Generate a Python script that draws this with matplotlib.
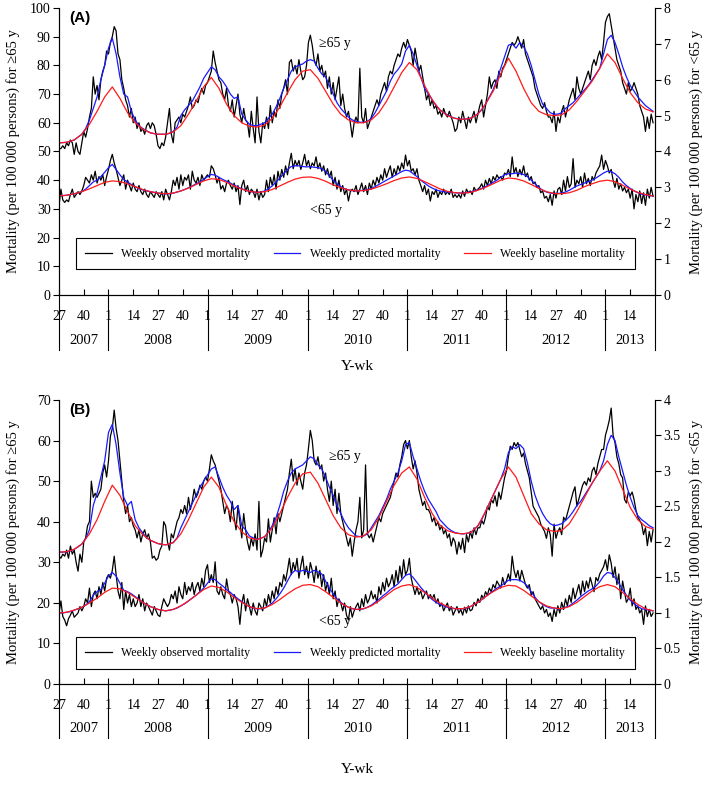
import numpy as np
import matplotlib
matplotlib.use('Agg')
import matplotlib.pyplot as plt
import matplotlib.transforms as mtransforms

plt.rcParams['font.family'] = ['Liberation Serif', 'DejaVu Serif']
plt.rcParams['font.size'] = 10

# week index 0 = 2007 wk27, 312 = 2013 wk26
years = ['2007', '2008', '2009', '2010', '2011', '2012', '2013']
year_start = [0, 26, 78, 131, 183, 235, 287, 313]
first_week = [27, 1, 1, 1, 1, 1, 1]
tick_weeks = [1, 14, 27, 40]

# ---- panel A, >=65 y (left axis) ----
a_old_obs = [
    51, 51, 52, 51, 53, 52, 54, 53, 49, 53, 50, 49, 53,
    57, 55, 58, 62, 65, 76, 70, 73, 68, 75, 78, 80, 85,
    84, 88, 90, 93.5, 92, 84, 82, 75, 72, 68, 66, 62, 65,
    60, 62, 58, 60, 57, 58, 56, 59, 60, 58, 60, 59, 56,
    52, 51, 53, 52, 55, 60, 65, 56, 53, 60, 61, 62, 60,
    63, 62, 64, 66, 69, 65, 66, 68, 67, 70, 72, 70, 73,
    74, 76, 78, 85, 81, 78, 75, 74, 70, 68, 72, 66, 64,
    68, 62, 66, 70, 63, 60, 65, 61, 60, 55, 64, 58, 53,
    69, 57, 53, 60, 58, 62, 58, 66, 60, 64, 62, 68, 65,
    70, 72, 75, 70, 81, 82, 78, 80, 77, 82, 78, 75, 76,
    80, 88, 90.5, 87, 82, 80, 84, 78, 80, 76, 78, 72, 76,
    70, 74, 68, 72, 76, 66, 70, 65, 62, 64, 60, 55, 60,
    62, 60, 79, 62, 60, 65, 58, 60, 62, 64, 66, 68, 66,
    70, 72, 74, 71, 76, 78, 77, 80, 82, 84, 83, 86, 88,
    86, 89, 87, 85, 80, 86, 82, 78, 80, 76, 72, 68, 70,
    66, 68, 65, 66, 63, 64, 62, 65, 63, 62, 64, 62, 60,
    57, 58, 62, 60, 64, 61, 58, 62, 60, 62, 64, 60, 63,
    66, 68, 62, 66, 70, 76, 72, 74, 75, 72, 78, 76, 79,
    80, 82, 84, 86, 88, 87, 88, 90, 88, 86, 89, 84, 82,
    80, 78, 76, 72, 70, 68, 66, 65, 67, 64, 62, 62, 60,
    64, 57, 62, 60, 64, 66, 62, 65, 68, 70, 72, 68, 76,
    72, 70, 72, 74, 76, 78, 75, 80, 82, 80, 83, 85, 82,
    88, 95, 97, 98, 94, 90, 86, 82, 80, 78, 74, 72, 70,
    74, 71, 72, 74, 72, 70, 66, 64, 62, 57, 62, 58, 63,
    60]
a_old_pred = [
    53.0, 53.1, 53.2, 53.6, 54.0, 55.0, 56.0, 58.0, 61.0, 65.0, 69.0, 75.0, 80.0,
    86.0, 89.5, 84.0, 76.0, 70.0, 69.0, 64.0, 61.0, 59.0, 58.0, 57.2, 56.5, 56.2,
    56.0, 56.0, 56.0, 56.3, 57.0, 58.5, 62.5, 64.5, 66.0, 67.5, 70.0, 72.5, 75.5,
    77.5, 79.5, 78.5, 76.0, 74.5, 72.5, 70.0, 68.5, 69.0, 63.0, 61.0, 59.5, 59.0,
    59.0, 59.5, 60.0, 61.5, 63.0, 65.5, 68.5, 72.0, 75.0, 78.0, 79.5, 80.0, 80.5,
    81.5, 82.0, 81.5, 79.0, 77.0, 76.0, 73.0, 70.0, 67.0, 65.0, 63.5, 62.0, 61.0,
    60.5, 60.2, 60.2, 60.5, 61.5, 63.5, 66.0, 68.5, 71.0, 74.5, 77.0, 78.5, 80.5,
    85.0, 87.0, 84.0, 80.0, 76.0, 72.0, 70.0, 68.0, 66.0, 64.5, 63.5, 62.8, 62.0,
    61.6, 61.3, 61.2, 61.3, 61.6, 62.2, 63.2, 64.5, 66.5, 69.0, 71.5, 75.0, 79.0,
    83.0, 87.0, 87.5, 86.0, 88.0, 86.5, 84.0, 80.0, 75.0, 70.0, 66.5, 65.0, 63.5,
    63.0, 63.0, 63.5, 65.0, 66.0, 67.0, 68.5, 70.0, 71.5, 73.0, 75.0, 77.0, 79.0,
    84.0, 89.0, 90.5, 88.0, 84.0, 79.5, 76.0, 73.0, 71.0, 69.0, 67.5, 66.0, 65.0,
    64.0]
a_old_base = [
    53.0, 53.2, 54.0, 56.0, 59.5, 64.0, 69.0, 72.5, 68.5, 63.5, 60.0, 57.8, 56.5,
    56.0, 56.0, 56.8, 59.0, 63.0, 67.5, 72.5, 75.8, 72.0, 66.5, 62.5, 60.0, 58.8,
    58.5, 59.2, 61.5, 65.5, 70.5, 75.0, 78.0, 78.5, 75.5, 71.0, 66.5, 63.0, 61.0,
    60.0, 60.0, 61.0, 63.5, 67.5, 72.5, 77.5, 81.0, 78.5, 73.0, 68.0, 64.5, 62.5,
    61.5, 61.2, 61.5, 63.0, 66.5, 71.0, 77.0, 82.5, 78.0, 72.0, 67.0, 64.0, 62.8,
    62.5, 62.8, 64.5, 67.5, 71.0, 74.5, 79.0, 84.0, 81.0, 75.5, 70.5, 67.0, 64.8,
    63.8]

# ---- panel A, <65 y (right axis) ----
a_yng_obs = [
    2.48, 2.95, 2.65, 2.58, 2.65, 2.6, 2.8, 2.95, 2.72, 2.8, 2.88, 2.8, 2.9,
    3.05, 3.28, 3.2, 3.12, 3.35, 3.2, 3.45, 3.12, 3.3, 3.2, 3.35, 3.05, 3.3,
    3.5, 3.75, 3.92, 3.68, 3.5, 3.28, 3.05, 3.2, 3.35, 2.95, 3.2, 3.05, 2.9,
    3.12, 2.95, 2.88, 3.05, 2.88, 2.8, 2.95, 2.8, 2.72, 2.88, 2.8, 2.72, 2.88,
    2.8, 2.72, 2.88, 2.65, 2.95, 2.8, 2.65, 2.88, 3.2, 3.05, 3.28, 2.95, 3.35,
    3.05, 3.28, 3.2, 3.35, 2.95, 3.45, 3.2, 3.12, 3.28, 3.05, 3.35, 3.2, 3.28,
    3.35, 3.28, 3.6, 3.52, 3.35, 3.12, 3.28, 2.95, 3.05, 2.88, 3.12, 3.2, 3.05,
    2.95, 3.12, 2.88, 3.05, 2.52, 3.05, 3.2, 2.88, 3.05, 2.8, 2.95, 2.88, 2.72,
    2.95, 2.65, 2.88, 2.72, 2.8, 3.2, 2.88, 3.28, 3.05, 3.35, 2.95, 3.45, 3.2,
    3.5, 3.28, 3.6, 3.35, 3.68, 3.95, 3.52, 3.75, 3.6, 3.75, 3.5, 3.68, 3.92,
    3.6, 3.75, 3.52, 3.68, 3.6, 3.85, 3.52, 3.68, 3.45, 3.6, 3.35, 3.52, 3.28,
    3.45, 3.05, 3.28, 2.95, 3.2, 2.88, 3.05, 2.8, 2.95, 2.62, 2.88, 2.95, 2.88,
    3.05, 2.8, 2.95, 3.12, 2.88, 3.05, 2.8, 3.12, 2.95, 3.2, 3.05, 3.28, 3.12,
    3.35, 3.2, 3.52, 3.28, 3.45, 3.6, 3.28, 3.52, 3.35, 3.6, 3.45, 3.68, 3.52,
    3.9, 3.6, 3.75, 3.45, 3.52, 3.35, 3.52, 3.2, 3.05, 2.88, 3.05, 2.8, 2.95,
    2.62, 2.88, 2.8, 2.95, 2.72, 2.88, 2.8, 2.95, 2.8, 2.88, 2.8, 2.95, 2.72,
    2.8, 2.72, 2.8, 2.7, 2.9, 2.75, 2.95, 2.85, 2.9, 2.8, 3.0, 2.9, 2.95,
    3.0, 3.1, 2.95, 3.2, 3.05, 3.25, 3.1, 3.3, 3.2, 3.35, 3.25, 3.3, 3.2,
    3.4, 3.35, 3.5, 3.3, 3.85, 3.4, 3.55, 3.3, 3.5, 3.35, 3.6, 3.3, 3.4,
    3.2, 3.3, 3.1, 3.15, 3.0, 3.05, 2.85, 2.9, 2.7, 2.75, 2.6, 2.8, 2.5,
    2.9, 2.7, 2.95, 3.0, 2.8, 3.2, 2.9, 3.3, 3.0, 3.1, 3.8, 3.0, 3.2,
    3.1, 3.3, 3.0, 3.4, 3.1, 3.25, 3.05, 3.3, 3.2, 3.4, 3.5, 3.6, 3.9,
    3.5, 3.75, 3.6, 3.4, 3.5, 3.2, 3.0, 3.25, 2.95, 3.1, 2.9, 3.0, 2.85,
    2.95, 2.7, 2.95, 2.4, 2.8, 2.6, 2.9, 2.55, 2.85, 2.5, 2.95, 2.7, 3.0,
    2.75]
a_yng_pred = [
    2.76, 2.77, 2.78, 2.8, 2.82, 2.85, 2.88, 2.95, 3.05, 3.15, 3.2, 3.3, 3.42,
    3.55, 3.64, 3.5, 3.35, 3.22, 3.15, 3.08, 3.02, 2.97, 2.93, 2.9, 2.88, 2.86,
    2.84, 2.83, 2.82, 2.82, 2.84, 2.87, 2.9, 2.94, 2.99, 3.04, 3.1, 3.15, 3.22,
    3.3, 3.36, 3.34, 3.28, 3.22, 3.17, 3.12, 3.06, 3.01, 2.96, 2.92, 2.89, 2.87,
    2.86, 2.87, 2.9, 2.96, 3.04, 3.15, 3.26, 3.38, 3.5, 3.58, 3.6, 3.6, 3.58,
    3.57, 3.58, 3.56, 3.55, 3.52, 3.45, 3.32, 3.2, 3.1, 3.02, 2.96, 2.93, 2.91,
    2.9, 2.91, 2.92, 2.94, 2.97, 3.02, 3.08, 3.14, 3.2, 3.26, 3.32, 3.38, 3.44,
    3.48, 3.46, 3.38, 3.3, 3.2, 3.12, 3.04, 2.98, 2.93, 2.9, 2.88, 2.87, 2.86,
    2.85, 2.84, 2.84, 2.85, 2.87, 2.9, 2.93, 2.97, 3.02, 3.08, 3.14, 3.2, 3.28,
    3.35, 3.38, 3.38, 3.4, 3.38, 3.36, 3.3, 3.2, 3.1, 3.0, 2.92, 2.87, 2.84,
    2.83, 2.83, 2.84, 2.87, 2.92, 2.98, 3.04, 3.08, 3.12, 3.16, 3.2, 3.26, 3.33,
    3.4, 3.45, 3.44, 3.38, 3.28, 3.15, 3.05, 2.97, 2.9, 2.85, 2.81, 2.79, 2.77,
    2.76]
a_yng_base = [
    2.76, 2.78, 2.82, 2.88, 2.96, 3.05, 3.14, 3.18, 3.16, 3.1, 3.02, 2.94, 2.88,
    2.84, 2.82, 2.84, 2.9, 2.98, 3.08, 3.18, 3.24, 3.22, 3.14, 3.04, 2.95, 2.89,
    2.86, 2.88, 2.94, 3.04, 3.14, 3.23, 3.28, 3.29, 3.25, 3.17, 3.07, 2.99, 2.93,
    2.9, 2.91, 2.95, 3.02, 3.1, 3.19, 3.26, 3.29, 3.25, 3.16, 3.06, 2.96, 2.89,
    2.85, 2.84, 2.86, 2.92, 3.0, 3.1, 3.2, 3.26, 3.24, 3.18, 3.08, 2.97, 2.88,
    2.83, 2.82, 2.85, 2.92, 3.02, 3.1, 3.17, 3.2, 3.16, 3.06, 2.95, 2.86, 2.8,
    2.76]

# ---- panel B, >=65 y (left axis) ----
b_old_obs = [
    31.5, 31, 32, 31.5, 33, 31, 34, 32, 33, 30, 27.8, 32, 30,
    35, 36, 39, 40, 50, 46, 47, 46, 47, 48, 52, 54, 51,
    55, 61, 63, 67.5, 63, 60, 55, 50, 45, 42, 44, 40, 41,
    39, 38, 36, 38, 35, 37, 38, 36, 37, 35, 31, 31.5, 30.5,
    31, 33, 34, 40, 39, 35, 33, 37, 36, 38, 40, 41, 43,
    42, 44, 42, 46, 43, 45, 48, 46, 47, 49, 48, 50, 51,
    50, 53, 56.5, 55, 54, 52, 50, 48, 45, 42, 44, 43, 40,
    45, 41, 38, 44, 40, 36, 42, 38, 35, 33, 36, 34, 37,
    33, 45, 31.3, 33, 36, 35, 40.7, 35, 38, 41, 37, 42, 40,
    42, 44, 46, 48, 52, 55.4, 50, 53, 49, 52, 50, 48, 52,
    54, 58, 62.5, 60, 55, 54, 56, 53, 54, 50, 52, 48, 45,
    50, 44, 48, 42, 47, 42, 40, 38, 36, 34, 36, 31.5, 35,
    38, 40, 46, 36, 38, 54, 37, 36, 37, 35, 37, 39, 41,
    40, 42, 43, 44, 45, 46, 48, 50, 52, 51, 54, 56, 59,
    60, 58, 60, 56, 53, 55, 52, 48, 46, 44, 45, 43, 43,
    42, 40, 41, 39, 40, 38, 39, 37, 38, 36, 37, 34, 36,
    35, 32, 35, 33.2, 35.9, 32.4, 36.8, 35, 37.6, 35.9, 38.5, 36.8, 38.5,
    38.5, 40.3, 39.4, 41.1, 43.8, 42.9, 45.5, 44.6, 46.4, 43.8, 47.3, 45.5, 48.1,
    50.8, 52.5, 56, 58.6, 57.8, 59.5, 58.6, 59.5, 57.8, 56, 56.9, 54.3, 52.5,
    50.8, 47.3, 43.8, 42.9, 42, 41.1, 39.4, 38.5, 37.6, 35.9, 38.5, 36.8, 31.5,
    39.4, 35.9, 37.6, 38.5, 36.8, 41.1, 40.3, 42, 43.8, 45.5, 47.3, 48.6, 43.8,
    45.5, 47.3, 49, 49.9, 49, 50.8, 49.9, 52.5, 53.4, 51.6, 54.3, 56, 57.8,
    57.8, 61.3, 63, 65, 68, 61.3, 59.5, 56, 54.3, 51.6, 50.8, 45.5, 44.6,
    47.3, 46.4, 47.3, 45.5, 42.9, 41.1, 40.3, 39.4, 36.8, 38.5, 34.1, 37.6, 35,
    38]
b_old_pred = [
    32.5, 32.5, 32.6, 32.8, 33.2, 33.8, 34.5, 35.8, 38.0, 44.0, 47.0, 51.0, 55.0,
    62.0, 64.0, 59.0, 52.0, 46.0, 44.0, 45.0, 40.5, 38.5, 37.2, 36.0, 35.4, 35.0,
    34.6, 34.4, 34.3, 34.5, 34.9, 36.0, 38.5, 40.5, 42.5, 44.5, 46.5, 48.5, 50.0,
    51.5, 53.0, 53.5, 51.0, 48.5, 46.5, 45.0, 43.0, 44.0, 39.0, 38.0, 36.5, 36.0,
    35.7, 35.9, 36.3, 37.5, 39.0, 41.0, 44.0, 47.5, 50.0, 52.0, 53.0, 53.5, 54.0,
    55.0, 56.0, 55.5, 54.0, 53.0, 51.0, 48.5, 46.5, 44.0, 42.0, 40.0, 38.5, 37.5,
    36.5, 36.3, 36.5, 37.0, 38.5, 40.0, 41.5, 43.5, 45.5, 48.0, 50.0, 52.0, 55.0,
    59.0, 59.5, 56.0, 53.0, 50.0, 47.5, 45.5, 44.0, 42.5, 40.5, 39.5, 38.5, 37.8,
    37.3, 37.1, 37.0, 37.1, 37.3, 38.0, 39.0, 40.5, 42.5, 44.5, 46.5, 48.5, 50.5,
    53.0, 57.0, 58.5, 58.0, 59.0, 58.0, 54.5, 50.0, 46.5, 44.0, 42.0, 40.5, 39.5,
    39.0, 39.2, 39.5, 40.3, 41.2, 42.5, 44.0, 45.0, 46.5, 48.0, 49.5, 51.0, 52.5,
    55.0, 59.0, 61.3, 60.0, 56.0, 52.5, 49.0, 46.0, 43.5, 41.5, 40.5, 39.8, 39.0,
    38.5]
b_old_base = [
    32.5, 32.6, 33.2, 34.5, 37.0, 40.5, 45.0, 49.0, 46.5, 42.5, 39.0, 36.8, 35.4,
    34.6, 34.3, 34.8, 37.0, 40.5, 44.5, 48.5, 51.0, 48.5, 44.0, 40.0, 37.5, 36.0,
    35.6, 36.3, 38.5, 42.0, 46.0, 49.5, 51.8, 52.2, 49.5, 45.5, 41.5, 38.5, 36.8,
    36.2, 36.5, 38.0, 41.0, 45.0, 49.0, 52.0, 53.5, 50.5, 46.0, 42.0, 39.2, 37.8,
    37.2, 37.0, 37.3, 39.0, 42.5, 46.5, 50.5, 53.5, 51.0, 46.5, 42.0, 39.5, 38.0,
    37.6, 37.8, 39.5, 42.5, 46.0, 49.5, 52.5, 55.0, 52.5, 48.0, 43.5, 40.5, 38.8,
    38.2]

# ---- panel B, <65 y (right axis) ----
b_yng_obs = [
    1.0, 1.17, 0.95, 0.9, 0.82, 0.92, 0.97, 1.03, 0.94, 0.97, 1.0, 1.09, 1.03,
    1.09, 1.2, 1.14, 1.35, 1.09, 1.26, 1.31, 1.2, 1.37, 1.26, 1.43, 1.31, 1.49,
    1.54, 1.49, 1.6, 1.8, 1.54, 1.31, 1.2, 1.43, 1.05, 1.31, 1.14, 1.26, 1.09,
    1.2, 1.09, 1.14, 1.26, 1.09, 1.2, 1.03, 1.14, 1.09, 1.03, 0.97, 1.09, 1.03,
    0.97, 0.95, 1.09, 1.2, 1.14, 1.09, 1.14, 1.26, 1.2, 1.31, 1.14, 1.37, 1.26,
    1.2, 1.43, 1.26, 1.37, 1.31, 1.43, 1.26, 1.37, 1.43, 1.31, 1.49, 1.37, 1.6,
    1.68, 1.43, 1.54, 1.43, 1.72, 1.31, 1.26, 1.37, 1.26, 1.2, 1.48, 1.31, 1.26,
    1.14, 1.26, 1.2, 1.09, 0.84, 1.14, 1.26, 1.03, 1.2, 1.09, 0.97, 1.14, 1.03,
    0.97, 1.14, 1.09, 1.03, 1.2, 1.09, 1.26, 1.14, 1.31, 1.2, 1.37, 1.26, 1.43,
    1.37, 1.54, 1.45, 1.6, 1.77, 1.54, 1.71, 1.6, 1.77, 1.49, 1.66, 1.8, 1.54,
    1.66, 1.49, 1.71, 1.6, 1.43, 1.66, 1.49, 1.6, 1.37, 1.54, 1.31, 1.43, 1.26,
    1.49, 1.2, 1.31, 1.09, 1.2, 1.14, 1.03, 1.14, 0.97, 0.9, 1.09, 0.94, 1.03,
    1.09, 1.14, 1.03, 1.2, 1.09, 1.26, 1.14, 1.2, 1.31, 1.2, 1.26, 1.14, 1.37,
    1.26, 1.43, 1.31, 1.49, 1.37, 1.43, 1.54, 1.37, 1.6, 1.43, 1.66, 1.49, 1.75,
    1.54, 1.6, 1.77, 1.49, 1.37, 1.26, 1.37, 1.26, 1.31, 1.2, 1.26, 1.31, 1.2,
    1.26, 1.2, 1.26, 1.14, 1.2, 1.09, 1.14, 1.03, 1.09, 1.14, 1.03, 1.09, 0.97,
    1.03, 1.09, 1.0, 1.05, 0.97, 1.08, 1.0, 1.1, 1.03, 1.05, 1.15, 1.1, 1.2,
    1.15, 1.25, 1.2, 1.3, 1.25, 1.35, 1.3, 1.4, 1.35, 1.45, 1.4, 1.35, 1.5,
    1.4, 1.45, 1.55, 1.45, 1.8, 1.6, 1.5, 1.6, 1.45, 1.6, 1.5, 1.4, 1.35,
    1.4, 1.25, 1.3, 1.2, 1.15, 1.1, 1.05, 1.1, 1.0, 1.05, 0.95, 1.0, 0.88,
    1.05, 0.95, 1.1, 1.0, 1.15, 1.05, 1.2, 1.1, 1.25, 1.15, 1.35, 1.2, 1.3,
    1.4, 1.25, 1.45, 1.3, 1.45, 1.35, 1.5, 1.4, 1.3, 1.5, 1.45, 1.55, 1.6,
    1.65, 1.75, 1.6, 1.82, 1.7, 1.5, 1.65, 1.4, 1.55, 1.2, 1.45, 1.3, 1.15,
    1.2, 1.35, 1.1, 1.2, 1.05, 1.1, 1.0, 1.05, 0.84, 1.1, 0.95, 1.05, 0.95,
    1.0]
b_yng_pred = [
    1.0, 1.0, 1.01, 1.02, 1.04, 1.06, 1.08, 1.11, 1.16, 1.25, 1.3, 1.33, 1.42,
    1.52, 1.57, 1.52, 1.42, 1.32, 1.3, 1.27, 1.23, 1.19, 1.15, 1.12, 1.09, 1.07,
    1.05, 1.04, 1.03, 1.04, 1.05, 1.07, 1.1, 1.13, 1.17, 1.21, 1.25, 1.3, 1.35,
    1.42, 1.48, 1.47, 1.42, 1.38, 1.33, 1.29, 1.24, 1.2, 1.16, 1.12, 1.09, 1.07,
    1.06, 1.06, 1.07, 1.1, 1.14, 1.2, 1.27, 1.35, 1.45, 1.55, 1.6, 1.58, 1.6,
    1.59, 1.57, 1.6, 1.58, 1.55, 1.45, 1.35, 1.27, 1.2, 1.15, 1.11, 1.08, 1.06,
    1.05, 1.05, 1.06, 1.08, 1.11, 1.15, 1.19, 1.24, 1.28, 1.33, 1.37, 1.41, 1.47,
    1.53, 1.55, 1.5, 1.43, 1.36, 1.3, 1.24, 1.19, 1.15, 1.12, 1.1, 1.08, 1.07,
    1.06, 1.06, 1.06, 1.07, 1.09, 1.12, 1.15, 1.19, 1.23, 1.27, 1.31, 1.35, 1.38,
    1.42, 1.46, 1.47, 1.47, 1.46, 1.43, 1.38, 1.3, 1.22, 1.16, 1.12, 1.09, 1.07,
    1.07, 1.06, 1.06, 1.08, 1.1, 1.14, 1.18, 1.23, 1.27, 1.31, 1.34, 1.38, 1.44,
    1.52, 1.57, 1.56, 1.5, 1.42, 1.33, 1.25, 1.18, 1.13, 1.09, 1.06, 1.05, 1.04,
    1.03]
b_yng_base = [
    1.0, 1.01, 1.04, 1.08, 1.14, 1.21, 1.29, 1.35, 1.34, 1.29, 1.22, 1.15, 1.09,
    1.05, 1.03, 1.05, 1.1, 1.17, 1.25, 1.33, 1.38, 1.36, 1.3, 1.22, 1.15, 1.09,
    1.06, 1.07, 1.12, 1.19, 1.27, 1.34, 1.39, 1.4, 1.37, 1.3, 1.22, 1.14, 1.08,
    1.05, 1.06, 1.1, 1.17, 1.25, 1.33, 1.38, 1.4, 1.36, 1.29, 1.21, 1.14, 1.09,
    1.06, 1.06, 1.09, 1.15, 1.23, 1.3, 1.36, 1.39, 1.38, 1.32, 1.24, 1.16, 1.1,
    1.07, 1.06, 1.09, 1.15, 1.23, 1.31, 1.37, 1.4, 1.37, 1.29, 1.2, 1.12, 1.06,
    1.03]

legend_labels = ['Weekly observed mortality', 'Weekly predicted mortality',
                 'Weekly baseline mortality']
left_label = 'Mortality (per 100 000 persons) for \u226565 y'
right_label = 'Mortality (per 100 000 persons) for <65 y'


def do_panel(fig, rect, tag, old, yng, lmax, rmax, rstep, old_xy, yng_xy, leg_y, year_y, wk_y):
    ax = fig.add_axes(rect)
    ax2 = ax.twinx()

    wk_obs = np.arange(len(old[0]))
    wk_pred = np.arange(0, 313, 2)
    wk_base = np.arange(0, 313, 4)
    assert len(old[0]) == 313 and len(yng[0]) == 313
    assert len(old[1]) == len(wk_pred) and len(yng[1]) == len(wk_pred)
    assert len(old[2]) == len(wk_base) and len(yng[2]) == len(wk_base)

    cols = ['black', '#1a1aff', '#ff1a1a']
    xs = [wk_obs, wk_pred, wk_base]
    handles = []
    for k in range(3):
        h, = ax.plot(xs[k], old[k], color=cols[k], lw=0.9)
        ax2.plot(xs[k], yng[k], color=cols[k], lw=0.9)
        handles.append(h)

    ax.set_xlim(0, 313)
    ax.set_ylim(0, lmax)
    ax2.set_ylim(0, rmax)
    ax.set_yticks(np.arange(0, lmax + 1, 10))
    ax2.set_yticks(np.arange(0, rmax + 0.01, rstep))
    ax2.yaxis.set_major_formatter(matplotlib.ticker.FormatStrFormatter('%g'))

    # week ticks
    tpos, tlab = [], []
    for y in range(len(years)):
        for w in tick_weeks:
            if w < first_week[y]:
                continue
            p = year_start[y] + w - first_week[y]
            if p < 312:
                tpos.append(p)
                tlab.append(str(w))
    ax.set_xticks(tpos)
    ax.set_xticklabels(tlab)
    ax.tick_params(axis='x', direction='in', length=4, pad=11, labelsize=10)
    ax.tick_params(axis='y', direction='out', length=4, labelsize=10, pad=2)
    ax2.tick_params(axis='y', direction='out', length=4, labelsize=10, pad=2)

    for a in (ax, ax2):
        a.spines['top'].set_visible(False)
        for s in a.spines.values():
            s.set_linewidth(0.8)

    # year separators and labels under the axis
    trans = mtransforms.blended_transform_factory(ax.transData, ax.transAxes)
    for p in year_start:
        ax.plot([p, p], [0, -0.19], color='black', lw=0.8, transform=trans, clip_on=False)
    for y in range(len(years)):
        mid = (year_start[y] + year_start[y + 1]) / 2.0
        ax.text(mid, year_y, years[y], transform=trans, ha='center', va='center', fontsize=10.5)
    ax.text(0.5, wk_y, 'Y-wk', transform=ax.transAxes, ha='center', va='center', fontsize=11)

    ax.set_ylabel(left_label, fontsize=10.5)
    ax2.set_ylabel(right_label, fontsize=10.5)
    ax.yaxis.set_label_coords(-0.066, 0.5)
    ax2.yaxis.set_label_coords(1.057, 0.5)

    ax.text(old_xy[0], old_xy[1], '\u226565 y', ha='center', va='center', fontsize=10)
    ax.text(yng_xy[0], yng_xy[1], '<65 y', ha='center', va='center', fontsize=10)
    ax.text(0.017, 0.965, tag, transform=ax.transAxes, ha='left', va='center',
            fontsize=11, fontweight='bold', family='Liberation Sans')

    leg = ax2.legend(handles, legend_labels, ncol=3, loc='center', bbox_to_anchor=(0.497, leg_y),
                     frameon=True, fancybox=False, edgecolor='black', framealpha=1,
                     fontsize=8.6, handlelength=2.2, columnspacing=2.0, handletextpad=0.8,
                     borderpad=0.8)
    leg.get_frame().set_linewidth(0.8)
    return ax


fig = plt.figure(figsize=(7.09, 7.90), dpi=100)

do_panel(fig, [0.0832, 0.6266, 0.8406, 0.3633], '(A)',
         [a_old_obs, a_old_pred, a_old_base], [a_yng_obs, a_yng_pred, a_yng_base],
         100, 8, 1, (145, 87.5), (140, 29.6), 0.143, -0.16, -0.25)
do_panel(fig, [0.0832, 0.1342, 0.8406, 0.3595], '(B)',
         [b_old_obs, b_old_pred, b_old_base], [b_yng_obs, b_yng_pred, b_yng_base],
         70, 4, 0.5, (150, 56), (145, 15.3), 0.109, -0.157, -0.3)

fig.savefig('out.png', dpi=100)
